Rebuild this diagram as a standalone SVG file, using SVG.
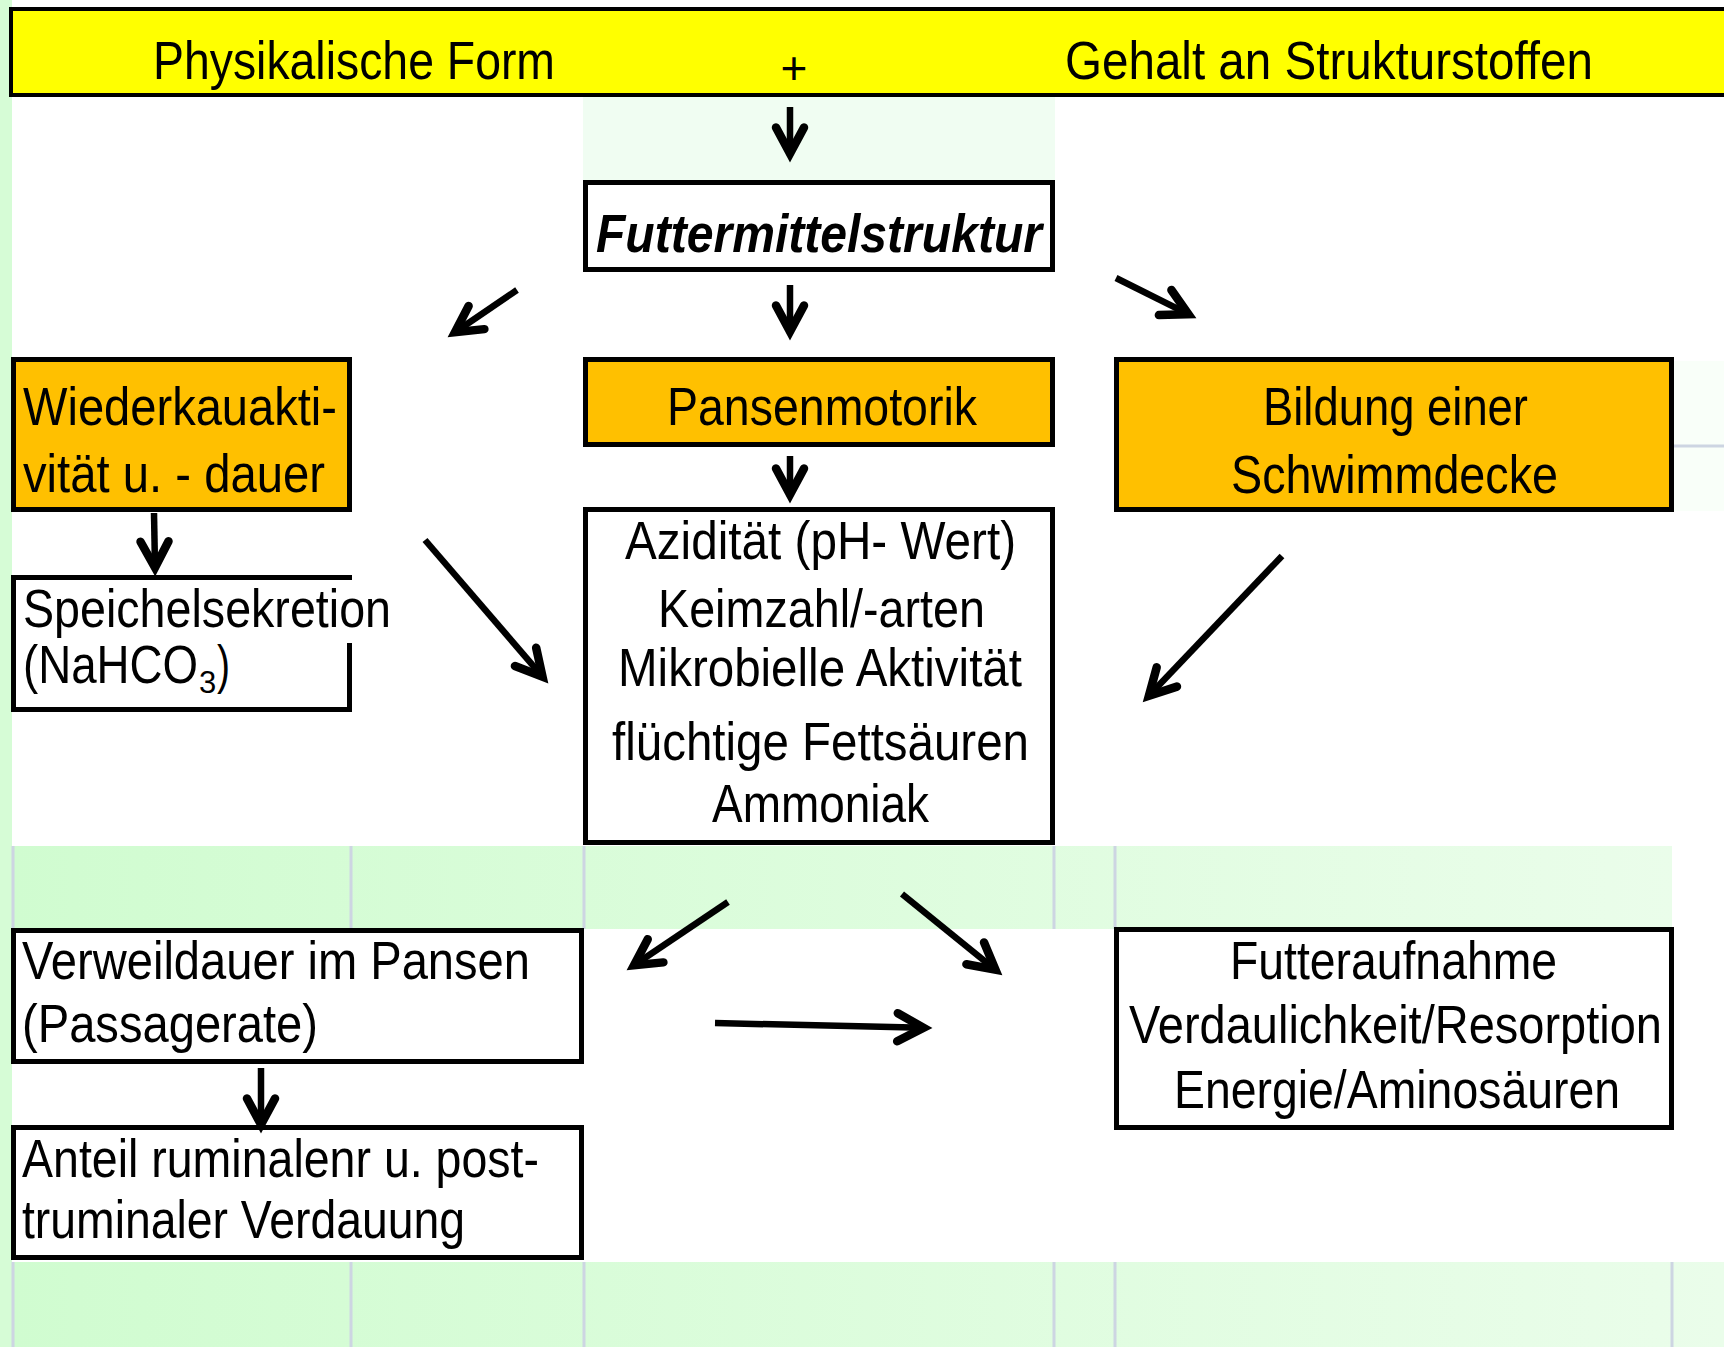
<svg xmlns="http://www.w3.org/2000/svg" width="1724" height="1347" viewBox="0 0 1724 1347">
<style>
  .t { font-family: "Liberation Sans", Arial, sans-serif; font-size: 54px; fill: #000; }
  .bi { font-weight: bold; font-style: italic; font-size: 53px; }
  .box { stroke: #000; stroke-width: 5; fill: #fff; }
  .org { fill: #FFC000; }
  .grid { stroke: #cdd5e2; stroke-width: 3; }
  .con { stroke: #000; stroke-width: 6.5; fill: none; marker-end: url(#ah); }
</style>
<defs>
  <linearGradient id="band" x1="0" y1="0" x2="1" y2="0">
    <stop offset="0" stop-color="#d0fcd0"/>
    <stop offset="1" stop-color="#eafdea"/>
  </linearGradient>
  <marker id="ah" markerUnits="userSpaceOnUse" orient="auto" overflow="visible" markerWidth="10" markerHeight="10" refX="0" refY="0">
    <path d="M -26,-14 L 0,0 L -26,14" fill="none" stroke="#000" stroke-width="8.5" stroke-linecap="round" stroke-linejoin="miter"/>
  </marker>
</defs>

<!-- background -->
<g id="background">
  <rect x="0" y="0" width="1724" height="1347" fill="#fff"/>
  <rect x="0" y="0" width="12" height="1347" fill="#d6fcd6"/>
  <rect x="583" y="97" width="472" height="84" fill="#f0fdf2"/>
  <rect x="1674" y="361" width="50" height="150" fill="#f9fff9"/>
  <line x1="1674" y1="446" x2="1724" y2="446" class="grid"/>
  <rect x="12" y="846" width="1660" height="83" fill="url(#band)"/>
  <rect x="12" y="1262" width="1712" height="85" fill="url(#band)"/>
  <g class="grid">
    <line x1="13" y1="846" x2="13" y2="929"/>
    <line x1="351" y1="846" x2="351" y2="929"/>
    <line x1="584" y1="846" x2="584" y2="929"/>
    <line x1="1054" y1="846" x2="1054" y2="929"/>
    <line x1="1115" y1="846" x2="1115" y2="929"/>
    <line x1="13" y1="1262" x2="13" y2="1347"/>
    <line x1="351" y1="1262" x2="351" y2="1347"/>
    <line x1="584" y1="1262" x2="584" y2="1347"/>
    <line x1="1054" y1="1262" x2="1054" y2="1347"/>
    <line x1="1115" y1="1262" x2="1115" y2="1347"/>
    <line x1="1672" y1="1262" x2="1672" y2="1347"/>
  </g>
</g>

<!-- banner -->
<g id="banner">
  <rect x="11" y="9" width="1720" height="86" fill="#FFFF00" stroke="#000" stroke-width="4"/>
  <text class="t" x="153" y="79" textLength="402" lengthAdjust="spacingAndGlyphs">Physikalische Form</text>
  <text class="t" x="794" y="84" text-anchor="middle" style="font-size:46px">+</text>
  <text class="t" x="1065" y="79" textLength="528" lengthAdjust="spacingAndGlyphs">Gehalt an Strukturstoffen</text>
</g>

<g id="futtermittelstruktur">
  <rect class="box" x="585.5" y="182.5" width="467" height="87"/>
  <text class="t bi" x="596" y="252" textLength="446" lengthAdjust="spacingAndGlyphs">Futtermittelstruktur</text>
</g>

<g id="wiederkau">
  <rect class="box org" x="13.5" y="359.5" width="336" height="150"/>
  <text class="t" x="23" y="425" textLength="314" lengthAdjust="spacingAndGlyphs">Wiederkauakti-</text>
  <text class="t" x="23" y="492" textLength="302" lengthAdjust="spacingAndGlyphs">vität u. - dauer</text>
</g>

<g id="pansenmotorik">
  <rect class="box org" x="585.5" y="359.5" width="467" height="85"/>
  <text class="t" x="667" y="425" textLength="310" lengthAdjust="spacingAndGlyphs">Pansenmotorik</text>
</g>

<g id="schwimmdecke">
  <rect class="box org" x="1116.5" y="359.5" width="555" height="150"/>
  <text class="t" x="1263" y="425" textLength="265" lengthAdjust="spacingAndGlyphs">Bildung einer</text>
  <text class="t" x="1231" y="493" textLength="327" lengthAdjust="spacingAndGlyphs">Schwimmdecke</text>
</g>

<g id="speichel">
  <rect x="13.5" y="577.5" width="336" height="132" fill="#fff"/>
  <path d="M 11,577.5 H 352 M 13.5,577.5 V 712 M 11,709.5 H 352 M 349.5,643 V 712" fill="none" stroke="#000" stroke-width="5"/>
  <text class="t" x="23" y="627" textLength="368" lengthAdjust="spacingAndGlyphs">Speichelsekretion</text>
  <text class="t" x="23" y="683"><tspan textLength="175" lengthAdjust="spacingAndGlyphs">(NaHCO</tspan><tspan x="199" dy="10" style="font-size:31px">3</tspan><tspan x="217" dy="-10" textLength="13" lengthAdjust="spacingAndGlyphs">)</tspan></text>
</g>

<g id="pansenmilieu">
  <rect class="box" x="585.5" y="509.5" width="467" height="333"/>
  <text class="t" x="625" y="559" textLength="391" lengthAdjust="spacingAndGlyphs">Azidität (pH- Wert)</text>
  <text class="t" x="658" y="627" textLength="327" lengthAdjust="spacingAndGlyphs">Keimzahl/-arten</text>
  <text class="t" x="618" y="686" textLength="404" lengthAdjust="spacingAndGlyphs">Mikrobielle Aktivität</text>
  <text class="t" x="612" y="760" textLength="417" lengthAdjust="spacingAndGlyphs">flüchtige Fettsäuren</text>
  <text class="t" x="712" y="822" textLength="217" lengthAdjust="spacingAndGlyphs">Ammoniak</text>
</g>

<g id="verweildauer">
  <rect class="box" x="13.5" y="930.5" width="568" height="131"/>
  <text class="t" x="22" y="979" textLength="508" lengthAdjust="spacingAndGlyphs">Verweildauer im Pansen</text>
  <text class="t" x="22" y="1042" textLength="296" lengthAdjust="spacingAndGlyphs">(Passagerate)</text>
</g>

<g id="anteil">
  <rect class="box" x="13.5" y="1127.5" width="568" height="130"/>
  <text class="t" x="22" y="1177" textLength="517" lengthAdjust="spacingAndGlyphs">Anteil ruminalenr u. post-</text>
  <text class="t" x="22" y="1238" textLength="443" lengthAdjust="spacingAndGlyphs">truminaler Verdauung</text>
</g>

<g id="futteraufnahme">
  <rect class="box" x="1116.5" y="929.5" width="555" height="198"/>
  <text class="t" x="1230" y="979" textLength="327" lengthAdjust="spacingAndGlyphs">Futteraufnahme</text>
  <text class="t" x="1129" y="1043" textLength="533" lengthAdjust="spacingAndGlyphs">Verdaulichkeit/Resorption</text>
  <text class="t" x="1174" y="1108" textLength="446" lengthAdjust="spacingAndGlyphs">Energie/Aminosäuren</text>
</g>

<g id="connectors">
  <line class="con" x1="790" y1="107" x2="790" y2="153.5"/>
  <line class="con" x1="790" y1="285" x2="790" y2="331.5"/>
  <line class="con" x1="517" y1="290" x2="455" y2="332.2"/>
  <line class="con" x1="1116" y1="278" x2="1188.4" y2="314.2"/>
  <line class="con" x1="154" y1="513" x2="155" y2="567.5"/>
  <line class="con" x1="790" y1="456" x2="790" y2="494.5"/>
  <line class="con" x1="425" y1="540" x2="542.5" y2="676.6"/>
  <line class="con" x1="1282" y1="556" x2="1148.9" y2="695.8"/>
  <line class="con" x1="728" y1="902" x2="634" y2="965.3"/>
  <line class="con" x1="902" y1="894" x2="995.4" y2="969.7"/>
  <line class="con" x1="715" y1="1023" x2="923.5" y2="1027.8"/>
  <line class="con" x1="261" y1="1068" x2="261" y2="1124.5"/>
</g>
</svg>
